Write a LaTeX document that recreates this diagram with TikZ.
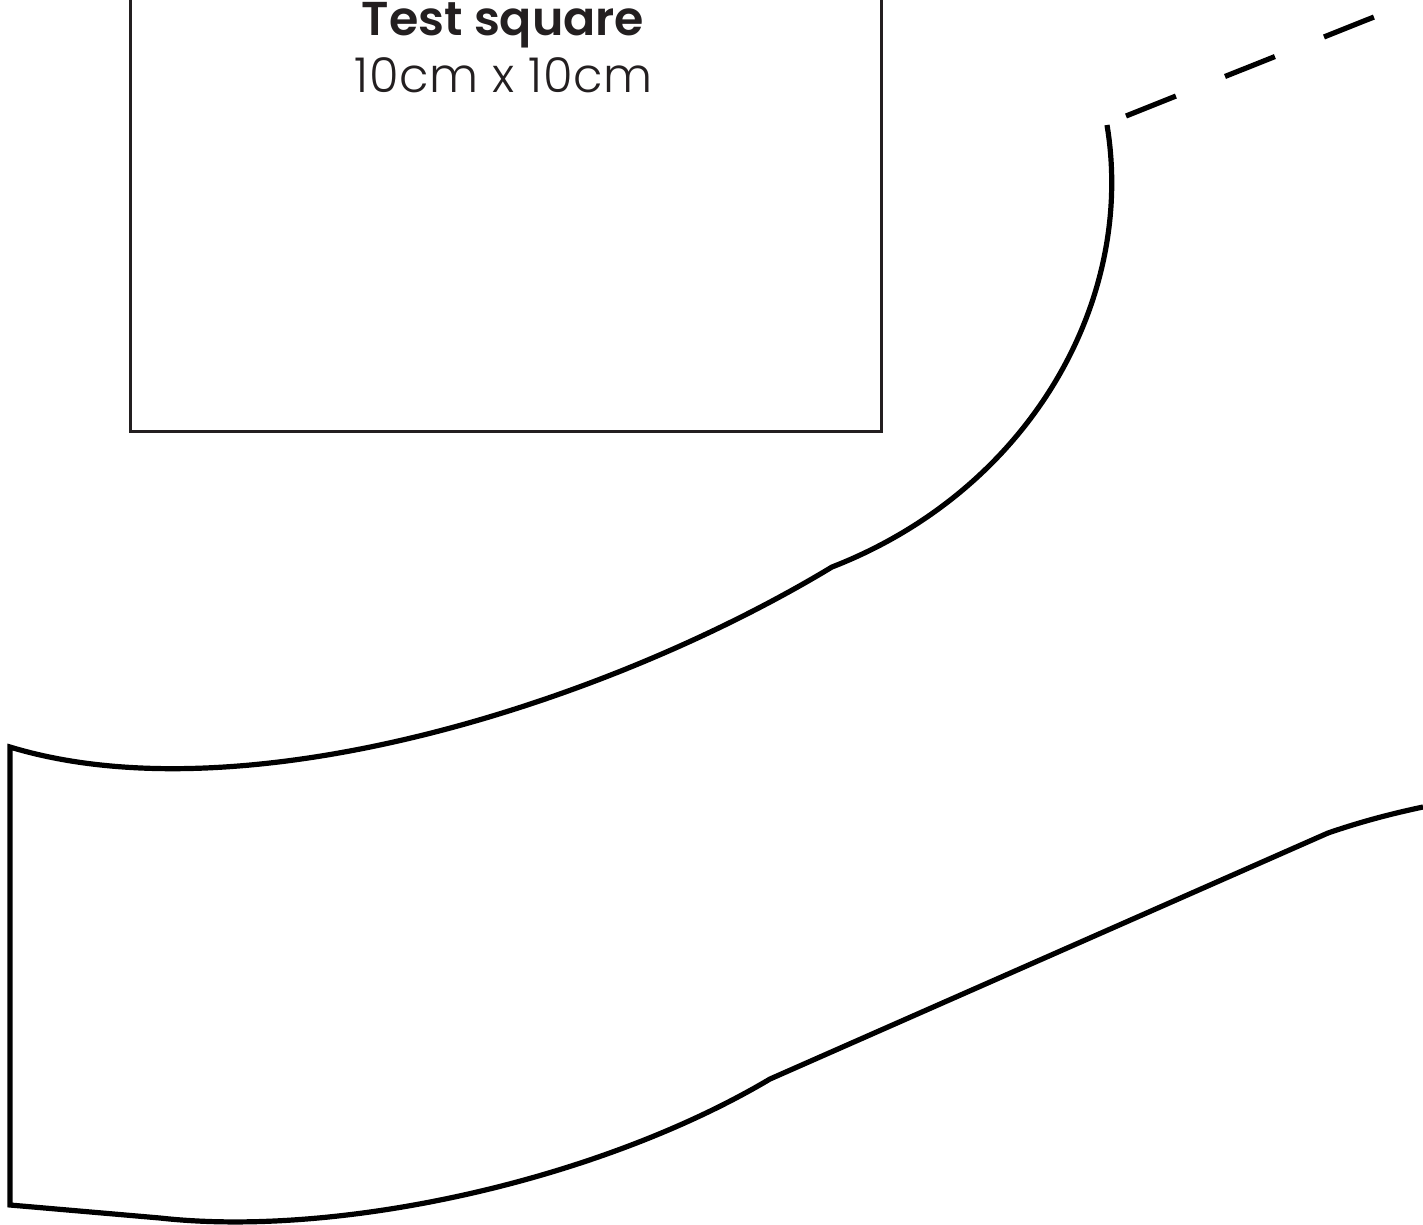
\documentclass[tikz,border=0pt]{standalone}
\usepackage{fontspec}
\setmainfont{Poppins}
\newfontfamily\lightfont[LetterSpace=1.5]{Poppins Light}
\newfontfamily\semifont{Poppins SemiBold}
\definecolor{ink}{HTML}{231F20}
\begin{document}
\begin{tikzpicture}[x=1pt,y=-1pt,
  pat/.style={draw=black,line width=5.2pt,line join=miter},
  sq/.style={draw=ink,line width=3pt},
  lab/.style={text=ink,inner sep=0pt,anchor=base}]
\useasboundingbox (0,0) rectangle (1423,1225);
\draw[sq] (130,-5) -- (130,431) -- (881,431) -- (881,-5);
\node[lab,font=\fontsize{47.5}{55}\selectfont] (title) at (503,36) {\semifont Test square};
\node[lab,font=\fontsize{48}{55}\selectfont] (size) at (503.5,93) {\lightfont 10cm x 10cm};
\draw[pat] (1107,125) .. controls (1136,300) and (1030,490) .. (832,567)
  .. controls (600,707) and (240,817) .. (10,747) -- (10,1205) -- (160,1218)
  .. controls (340,1238) and (600,1180) .. (770,1079) -- (1328,833)
  .. controls (1360,822) and (1390,814) .. (1423,807);
\draw[pat,dash pattern=on 53.7pt off 52.9pt] (1126,116) -- (1374,17);
\end{tikzpicture}
\end{document}
